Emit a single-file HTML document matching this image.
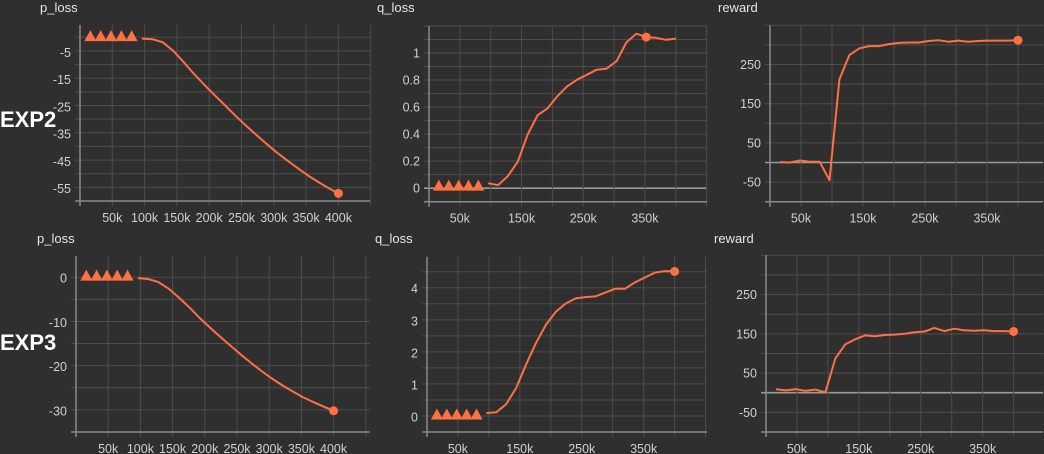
<!DOCTYPE html>
<html><head><meta charset="utf-8"><style>
html,body{margin:0;padding:0;background:#2f2f2f;}
svg{display:block;font-family:"Liberation Sans",sans-serif;}
</style></head><body>
<svg id="s" width="1044" height="454">
<rect width="1044" height="454" fill="#2f2f2f"/>
<text x="0" y="127" font-size="22" font-weight="bold" fill="#fff">EXP2</text>
<text x="0" y="350" font-size="22" font-weight="bold" fill="#fff">EXP3</text>
</svg>
<script>
// ---- data ----
const stepsLoss = [96,112,128,144,160,176,192,208,224,240,256,272,288,304,320,336,352,368,384,400];
const stepsReward = [16,32,48,64,80,96,112,128,144,160,176,192,208,224,240,256,272,288,304,320,336,352,368,384,400];
const missingSteps = [16,32,48,64,80];
const exp2P = [0,-0.2,-1.3,-4.4,-8.5,-12.8,-16.8,-20.6,-24.3,-28.1,-31.7,-35.1,-38.4,-41.6,-44.5,-47.3,-50.0,-52.4,-54.7,-56.7];
const exp2Q = [0.037,0.022,0.091,0.197,0.398,0.54,0.59,0.68,0.754,0.803,0.84,0.877,0.885,0.94,1.079,1.143,1.118,1.113,1.098,1.106];
const exp2R = [1,0,5,2,2,-45,212,274,291,297,297,302,305,306,306,310,312,308,311,308,310,311,311,311,312];
const exp3P = [0,-0.2,-0.9,-2.4,-4.4,-6.6,-9.0,-11.2,-13.3,-15.3,-17.3,-19.2,-21.0,-22.7,-24.2,-25.6,-26.9,-28.0,-29.0,-30.0];
const exp3Q = [0.124,0.145,0.40,0.90,1.63,2.30,2.87,3.28,3.54,3.70,3.74,3.76,3.88,4.0,4.0,4.20,4.35,4.50,4.55,4.54];
const exp3R = [9,6,9,5,8,1,87,123,136,146,144,147,148,150,154,156,165,157,163,159,158,159,157,157,156];
const xTicksWide = [50,100,150,200,250,300,350,400];
const xTicksNarrow = [50,150,250,350];
const yTicks2P = [-5,-15,-25,-35,-45,-55];
const yTicks2Q = [0,0.2,0.4,0.6,0.8,1];
const yTicksR = [-50,50,150,250];
const yTicks3P = [0,-10,-20,-30];
const yTicks3Q = [0,1,2,3,4];

const NS='http://www.w3.org/2000/svg';
const svg=document.getElementById('s');
function mk(tag,attrs,parent){const e=document.createElementNS(NS,tag);for(const k in attrs)e.setAttribute(k,attrs[k]);(parent||svg).appendChild(e);return e;}

function panel(o){
  const g=mk('g',{});
  
  
  const sx=v=>o.x0+v*o.kx;
  const sy=v=>o.top+(o.ymax-v)/(o.ymax-o.ymin)*(o.bot-o.top);
  const t=mk('text',{x:o.tx,y:o.ty,'font-size':13,fill:'#e6e6e6'},g);
  t.textContent=o.title;
  
  
  for(let v=o.ymin;v<=o.ymax+1e-9;v+=o.gstep){
    const y=sy(v);
    const isZero=Math.abs(v)<1e-9;
    const l=mk('line',{x1:o.x0-5,x2:o.right,y1:y,y2:y,stroke:isZero?'#9a9a9a':'#4d4d4d','stroke-width':isZero?1.6:1},g);
    
    
  }
  for(let s=50;sx(s)<=o.right+1;s+=50){
    const l=mk('line',{x1:sx(s),x2:sx(s),y1:o.top,y2:o.bot+5,stroke:'#4d4d4d'},g);
    
    
  }
  const ax=mk('line',{x1:o.x0,x2:o.x0,y1:o.top,y2:o.bot+5,stroke:'#8a8a8a','stroke-width':1.5},g);
  
  
  const bx=mk('line',{x1:o.x0-5,x2:o.right,y1:o.bot,y2:o.bot,stroke:'#8a8a8a','stroke-width':1.5},g);
  
  
  o.yt.forEach(v=>{
    const e=mk('text',{x:o.x0-9,y:sy(v)+4.5,'font-size':12.5,fill:'#d0d0d0','text-anchor':'end'},g);
    e.textContent=String(v);
    
    
  });
  o.xt.forEach(v=>{
    const e=mk('text',{x:sx(v),y:o.bot+21,'font-size':12.5,fill:'#d0d0d0','text-anchor':'middle'},g);
    e.textContent=v+'k';
    
    
  });
  if(o.missing){
    o.missing.forEach(s=>{
      const cx=sx(s),y=sy(0)+2.5;
      const p=mk('polygon',{points:`${cx-6},${y} ${cx+6},${y} ${cx},${y-11}`,fill:'#ff7043'},g);
      
      
    });
  }
  const d=o.steps.map((s,i)=>(i?'L':'M')+sx(s).toFixed(1)+','+sy(o.vals[i]).toFixed(1)).join(' ');
  const path=mk('path',{d:d,fill:'none',stroke:'#ff7043','stroke-width':2,'stroke-linejoin':'round'},g);
  
  
  const di=o.dot;
  const c=mk('circle',{cx:sx(o.steps[di]),cy:sy(o.vals[di]),r:4.5,fill:'#ff7043'},g);
  
  
}

panel({name:'exp2-p-loss-chart',title:'p_loss',tx:40,ty:12,x0:80,kx:0.646,right:370,top:25,bot:201,ymin:-59.5,ymax:5,gstep:5,yt:yTicks2P,xt:xTicksWide,steps:stepsLoss,vals:exp2P,missing:missingSteps,dot:19});
panel({name:'exp2-q-loss-chart',title:'q_loss',tx:377,ty:12,x0:429,kx:0.617,right:707,top:26,bot:201.7,ymin:-0.1,ymax:1.2,gstep:0.1,yt:yTicks2Q,xt:xTicksNarrow,steps:stepsLoss,vals:exp2Q,missing:missingSteps,dot:16});
panel({name:'exp2-reward-chart',title:'reward',tx:718,ty:12,x0:770,kx:0.62,right:1043,top:25.3,bot:201.7,ymin:-100,ymax:350,gstep:50,yt:yTicksR,xt:xTicksNarrow,steps:stepsReward,vals:exp2R,dot:24});
panel({name:'exp3-p-loss-chart',title:'p_loss',tx:37,ty:243,x0:76,kx:0.644,right:370,top:256,bot:432,ymin:-34.8,ymax:5,gstep:5,yt:yTicks3P,xt:xTicksWide,steps:stepsLoss,vals:exp3P,missing:missingSteps,dot:19});
panel({name:'exp3-q-loss-chart',title:'q_loss',tx:375,ty:243,x0:427,kx:0.619,right:707,top:256.7,bot:432,ymin:-0.47,ymax:5,gstep:0.5,yt:yTicks3Q,xt:xTicksNarrow,steps:stepsLoss,vals:exp3Q,missing:missingSteps,dot:19});
panel({name:'exp3-reward-chart',title:'reward',tx:714,ty:243,x0:766,kx:0.619,right:1043,top:255.3,bot:432,ymin:-100,ymax:350,gstep:50,yt:yTicksR,xt:xTicksNarrow,steps:stepsReward,vals:exp3R,dot:24});
</script>
</body></html>
